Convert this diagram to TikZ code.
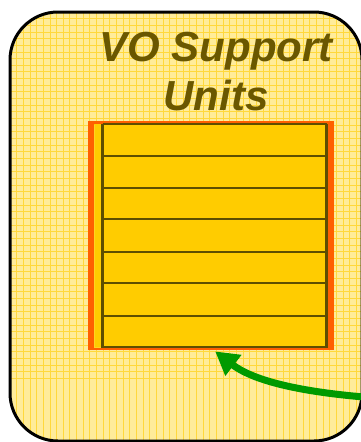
\documentclass[tikz,border=0pt]{standalone}
\usepackage{fontspec}
\setmainfont{Liberation Sans}
\usetikzlibrary{arrows.meta}
\definecolor{paleyellow}{HTML}{FFEC9A}
\definecolor{gridyellow}{HTML}{FFD83C}
\definecolor{gold}{HTML}{FFCC00}
\definecolor{frameorange}{HTML}{FF6000}
\definecolor{olive}{HTML}{5E4E00}
\definecolor{titleolive}{HTML}{6A5700}
\definecolor{arrowgreen}{HTML}{009A00}
\tikzset{
  panel/.style={rounded corners=48pt},
  rowline/.style={draw=olive, line width=2.2pt},
  title/.style={text=titleolive, font=\fontsize{42}{49}\selectfont\bfseries\itshape, align=center},
  pointer/.style={draw=arrowgreen, line width=7pt, -{Triangle[length=23pt,width=25pt]}}
}
\begin{document}
\begin{tikzpicture}[x=1pt,y=-1pt]
  \useasboundingbox (0,0) rectangle (361,442);
  % outer panel with its grid texture
  \begin{scope}
    \clip[panel] (10,12) rectangle (362,441);
    \fill[paleyellow] (0,0) rectangle (370,450);
    \foreach \i in {0,...,55} {
      \draw[gridyellow, line width=0.9pt] (10+\i*6.66,0) -- (10+\i*6.66,450);
      \draw[gridyellow, line width=0.9pt] (0,12+\i*6.66) -- (370,12+\i*6.66);
    }
  \end{scope}
  \draw[panel, line width=3pt] (10,12) rectangle (362,441);
  % title
  \node[title] (title) at (216,72) {VO Support\\Units};
  % list box: orange frame, gold rows
  \node[fill=frameorange, minimum width=246pt, minimum height=229pt, inner sep=0pt, anchor=north west] (box) at (88,121) {};
  \fill[gold] (94,124) rectangle (328,347);
  \draw[gridyellow!60!gold, line width=1pt] (94.5,124.5) -- (94.5,347) -- (102,347);
  \draw[rowline] (102.5,124) -- (102.5,348) (326.5,124) -- (326.5,348);
  \foreach \y in {124,156,187.7,219.3,251.7,283.3,315.7,347.3}
    \draw[rowline] (102.5,\y) -- (326.5,\y);
  % pointer arrow
  \coordinate (tail) at (364,397);
  \coordinate (tip) at ([xshift=4pt,yshift=-1pt]box.south);
  \draw[pointer] (tail) .. controls (305,392) and (255,382) .. (tip);
\end{tikzpicture}
\end{document}
